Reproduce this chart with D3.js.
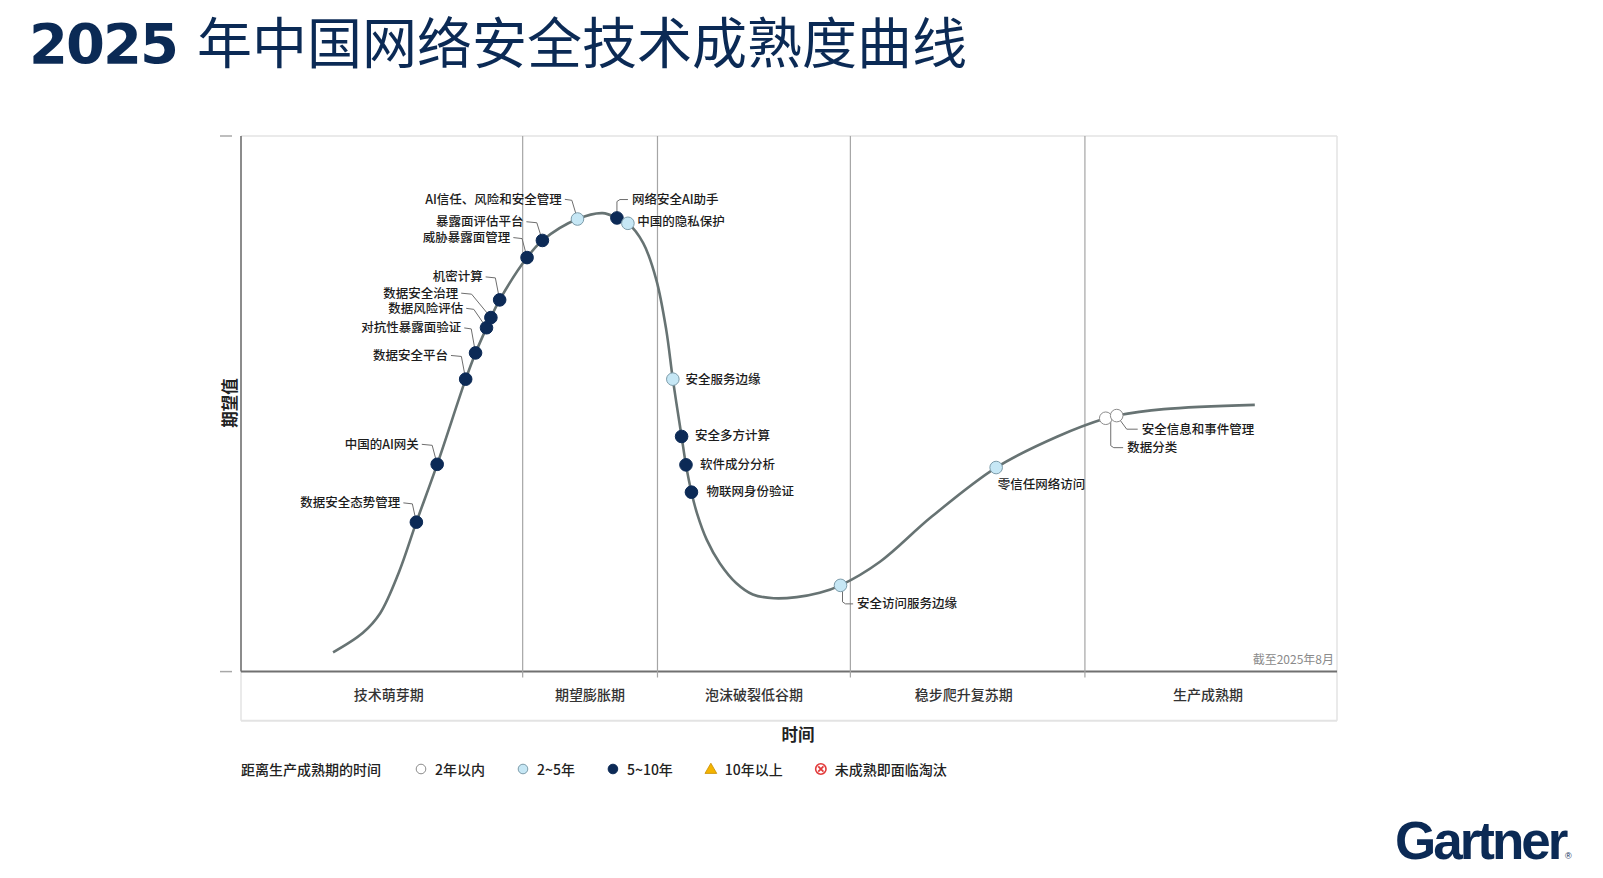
<!DOCTYPE html>
<html>
<head>
<meta charset="utf-8">
<script src="https://cdn.jsdelivr.net/npm/d3@7"></script>
<style>
  body { margin: 0; background: #fff; }
  svg { display: block; }
  text { font-family: "Noto Sans CJK SC", "Noto Sans", sans-serif; }
</style>
</head>
<body>
<div id="chart"></div>
<script>
// phases along the time axis (bounds in % of time)
const phases = ["技术萌芽期", "期望膨胀期", "泡沫破裂低谷期", "稳步爬升复苏期", "生产成熟期"];
const phaseBounds = [0, 25.7, 38.0, 55.6, 77.0, 100];

// hype curve knots (time %, expectation %)
const curveX = [8.4, 11.1, 12.7, 14.4, 16.0, 17.9, 20.5, 21.4, 22.4, 22.8, 23.6, 26.1, 27.5, 30.7, 33.0, 34.3, 35.3,
  36.7, 37.9, 38.8, 39.4, 40.2, 40.6, 41.1, 41.6, 42.5, 43.7, 45.2, 46.7, 48.6, 50.7, 52.8, 54.7, 58.3, 63.0,
  68.9, 74.5, 78.9, 79.9, 84.2, 92.5];
const curveY = [3.6, 7.2, 10.9, 18.5, 27.9, 38.7, 54.6, 59.5, 64.2, 66.1, 69.4, 77.3, 80.5, 84.5, 85.6, 84.7, 83.7,
  80.0, 73.1, 63.8, 54.6, 43.9, 38.6, 33.5, 29.6, 24.6, 20.2, 16.5, 14.4, 13.7, 13.9, 14.7, 16.1, 20.5, 28.9,
  38.1, 43.9, 47.3, 47.8, 49.0, 49.8];

// technologies on the curve
const techNames = ["数据安全态势管理", "中国的AI网关", "数据安全平台", "对抗性暴露面验证", "数据风险评估", "数据安全治理",
  "机密计算", "威胁暴露面管理", "暴露面评估平台", "AI信任、风险和安全管理", "网络安全AI助手", "中国的隐私保护",
  "安全服务边缘", "安全多方计算", "软件成分分析", "物联网身份验证", "安全访问服务边缘", "零信任网络访问",
  "数据分类", "安全信息和事件管理"];
const techX = [16.0, 17.9, 20.5, 21.4, 22.4, 22.8, 23.6, 26.1, 27.5, 30.7, 34.3, 35.3, 39.4, 40.2, 40.6, 41.1,
  54.7, 68.9, 78.9, 79.9];
const techY = [27.9, 38.7, 54.6, 59.5, 64.2, 66.1, 69.4, 77.3, 80.5, 84.5, 84.7, 83.7, 54.6, 43.9, 38.6, 33.5,
  16.1, 38.1, 47.3, 47.8];
// 0: 2年以内, 1: 2~5年, 2: 5~10年
const techGroup = [2, 2, 2, 2, 2, 2, 2, 2, 2, 1, 2, 1, 1, 2, 2, 2, 1, 1, 0, 0];

const legendTitle = "距离生产成熟期的时间";
const legendLabels = ["2年以内", "2~5年", "5~10年", "10年以上", "未成熟即面临淘汰"];

// label placement (pixels relative to the dot), kept apart from the data
const labelLayout = [
  { dx: -16, dy: -20.3, lead: "elbow", ex: -4 },
  { dx: -18.4, dy: -21, lead: "elbow", ex: -5 },
  { dx: -17.7, dy: -24.7, lead: "elbow", ex: -4.3 },
  { dx: -14.3, dy: -26, lead: "elbow", ex: -4.3 },
  { dx: -23.3, dy: -20.4, lead: "elbow", ex: -12.7 },
  { dx: -32.7, dy: -25.4, lead: "elbow", ex: -19.3 },
  { dx: -17, dy: -24, lead: "elbow", ex: -4.3 },
  { dx: -16.7, dy: -21, lead: "elbow", ex: -5 },
  { dx: -19, dy: -19.7, lead: "elbow", ex: -5.6 },
  { dx: -15.6, dy: -20.7, lead: "elbow", ex: -5.6 },
  { dx: 15, dy: -19.4, lead: "up" },
  { dx: 9.3, dy: -3.3, lead: "none" },
  { dx: 12.7, dy: -0.7, lead: "none" },
  { dx: 13.3, dy: -2.4, lead: "none" },
  { dx: 14, dy: -1, lead: "none" },
  { dx: 15, dy: -1.6, lead: "none" },
  { dx: 16.6, dy: 17.5, lead: "down", vx: 2 },
  { dx: 1.6, dy: 16, lead: "none" },
  { dx: 21.4, dy: 28.4, lead: "down", vx: 5 },
  { dx: 25, dy: 12.6, lead: "diag" }
];
const phaseLabelShift = [7, 0, 0, -4, -3];

const W = 1603, H = 878;
const plot = { left: 241, right: 1337, top: 136, bottom: 671.6, band: 720.7 };
const navy = "#0b2a55";

const svg = d3.select("#chart").append("svg")
  .attr("width", W)
  .attr("height", H);

const x = d3.scaleLinear().domain([0, 100]).range([plot.left, plot.right]);
const y = d3.scaleLinear().domain([0, 100]).range([plot.bottom, plot.top]);

// title
svg.append("text")
  .attr("x", 29).attr("y", 63)
  .style("font-family", "'DejaVu Sans', sans-serif")
  .style("font-weight", 700)
  .style("font-size", "56px")
  .style("letter-spacing", "-2px")
  .attr("fill", navy)
  .text("2025");
svg.append("text")
  .attr("x", 197).attr("y", 63)
  .style("font-size", "55px")
  .style("font-weight", 400)
  .attr("fill", navy)
  .text("年中国网络安全技术成熟度曲线");

// frame
const frame = svg.append("g");
frame.append("line").attr("x1", plot.left).attr("x2", plot.right).attr("y1", plot.top).attr("y2", plot.top)
  .attr("stroke", "#e3e3e3").attr("stroke-width", 1.5);
frame.append("line").attr("x1", plot.right).attr("x2", plot.right).attr("y1", plot.top).attr("y2", plot.band)
  .attr("stroke", "#e3e3e3").attr("stroke-width", 1.5);
frame.append("line").attr("x1", plot.left).attr("x2", plot.right).attr("y1", plot.band).attr("y2", plot.band)
  .attr("stroke", "#e3e3e3").attr("stroke-width", 2);
frame.append("line").attr("x1", plot.left).attr("x2", plot.left).attr("y1", plot.bottom).attr("y2", plot.band)
  .attr("stroke", "#e3e3e3").attr("stroke-width", 1.5);

// phase dividers
svg.append("g").selectAll("line")
  .data(phaseBounds.slice(1, -1))
  .enter().append("line")
  .attr("x1", d => x(d)).attr("x2", d => x(d))
  .attr("y1", plot.top).attr("y2", plot.bottom + 6)
  .attr("stroke", "#a5a5a5")
  .attr("stroke-width", 1.2);

// axes lines
frame.append("line").attr("x1", plot.left).attr("x2", plot.left).attr("y1", plot.top).attr("y2", plot.bottom)
  .attr("stroke", "#666").attr("stroke-width", 1.5);
frame.append("line").attr("x1", plot.left).attr("x2", plot.right).attr("y1", plot.bottom).attr("y2", plot.bottom)
  .attr("stroke", "#707070").attr("stroke-width", 2);
frame.selectAll(".tick")
  .data([0, 100])
  .enter().append("line")
  .attr("class", "tick")
  .attr("x1", plot.left - 21).attr("x2", plot.left - 9)
  .attr("y1", d => y(d)).attr("y2", d => y(d))
  .attr("stroke", "#a8a8a8").attr("stroke-width", 1.5);

// phase labels
svg.append("g").selectAll("text")
  .data(phases)
  .enter().append("text")
  .attr("x", (d, i) => x((phaseBounds[i] + phaseBounds[i + 1]) / 2) + phaseLabelShift[i])
  .attr("y", 694)
  .attr("text-anchor", "middle")
  .attr("dominant-baseline", "central")
  .style("font-size", "14px")
  .style("font-weight", 500)
  .attr("fill", "#333")
  .text(d => d);

// axis titles
svg.append("text")
  .attr("transform", "translate(229,403) rotate(-90)")
  .attr("text-anchor", "middle")
  .attr("dominant-baseline", "central")
  .style("font-size", "16.5px")
  .style("font-weight", 700)
  .attr("fill", "#222")
  .text("期望值");
svg.append("text")
  .attr("x", 798).attr("y", 734)
  .attr("text-anchor", "middle")
  .attr("dominant-baseline", "central")
  .style("font-size", "16.5px")
  .style("font-weight", 700)
  .attr("fill", "#222")
  .text("时间");

svg.append("text")
  .attr("x", plot.right - 3).attr("y", 658)
  .attr("text-anchor", "end")
  .attr("dominant-baseline", "central")
  .style("font-size", "12px")
  .attr("fill", "#8a8a8a")
  .text("截至2025年8月");

// the curve
const line = d3.line()
  .x(d => x(d[0]))
  .y(d => y(d[1]))
  .curve(d3.curveCatmullRom.alpha(0.5));

svg.append("path")
  .datum(d3.zip(curveX, curveY))
  .attr("d", line)
  .attr("fill", "none")
  .attr("stroke", "#677373")
  .attr("stroke-width", 2.6);

// technology points
const techs = techNames.map((name, i) => ({
  name: name, px: x(techX[i]), py: y(techY[i]), group: techGroup[i], lay: labelLayout[i]
}));

// leader lines
svg.append("g").selectAll("polyline")
  .data(techs.filter(d => d.lay.lead !== "none"))
  .enter().append("polyline")
  .attr("fill", "none")
  .attr("stroke", "#6e6e6e")
  .attr("stroke-width", 1)
  .attr("points", d => {
    const L = d.lay, tx = d.px + L.dx, ty = d.py + L.dy + 1;
    let pts;
    if (L.lead === "elbow") pts = [[tx + 3, ty], [d.px + L.ex, ty + 1], [d.px, d.py]];
    else if (L.lead === "up") pts = [[d.px, d.py], [d.px, ty + 2], [d.px + 3, ty], [tx - 4, ty]];
    else if (L.lead === "down") pts = [[d.px + L.vx, d.py], [d.px + L.vx, ty - 2], [d.px + L.vx + 3, ty], [tx - 4, ty]];
    else pts = [[d.px, d.py], [d.px + 10, ty], [tx - 4, ty]];
    return pts.map(p => p.join(",")).join(" ");
  });

const fills = ["#ffffff", "#c6e7f5", "#0c2a56"];
const strokes = ["#8c8c8c", "#7d9caa", "#0c2a56"];

svg.append("g").selectAll("circle")
  .data(techs)
  .enter().append("circle")
  .attr("cx", d => d.px)
  .attr("cy", d => d.py)
  .attr("r", 6.3)
  .attr("fill", d => fills[d.group])
  .attr("stroke", d => strokes[d.group])
  .attr("stroke-width", 1);

svg.append("g").selectAll("text")
  .data(techs)
  .enter().append("text")
  .attr("x", d => d.px + d.lay.dx)
  .attr("y", d => d.py + d.lay.dy)
  .attr("text-anchor", d => d.lay.dx < 0 ? "end" : "start")
  .attr("dominant-baseline", "central")
  .style("font-size", "12.5px")
  .style("font-weight", 500)
  .attr("fill", "#1c1c1c")
  .text(d => d.name);

// legend
const legend = svg.append("g").attr("transform", "translate(0,769)");
legend.append("text")
  .attr("x", 241).attr("y", 0)
  .attr("dominant-baseline", "central")
  .style("font-size", "14px")
  .style("font-weight", 500)
  .attr("fill", "#222")
  .text(legendTitle);

let cx = 421;
legendLabels.forEach((label, i) => {
  const g = legend.append("g").attr("transform", `translate(${cx},0)`);
  if (i < 3) {
    g.append("circle").attr("r", 4.8)
      .attr("fill", fills[i]).attr("stroke", strokes[i]).attr("stroke-width", 1);
  } else if (i === 3) {
    g.append("path").attr("d", d3.symbol(d3.symbolTriangle, 60)())
      .attr("transform", "translate(0,1)")
      .attr("fill", "#f4b400").attr("stroke", "#c88d00").attr("stroke-width", 0.8);
  } else {
    g.append("circle").attr("r", 5.2)
      .attr("fill", "#fff").attr("stroke", "#e23b3b").attr("stroke-width", 1.6);
    g.append("path").attr("d", "M-2.6,-2.6L2.6,2.6M2.6,-2.6L-2.6,2.6")
      .attr("stroke", "#e23b3b").attr("stroke-width", 1.8);
  }
  const t = g.append("text")
    .attr("x", 14).attr("y", 0)
    .attr("dominant-baseline", "central")
    .style("font-size", "14px")
    .style("font-weight", 500)
    .attr("fill", "#222")
    .text(label);
  cx += 14 + t.node().getComputedTextLength() + 38;
});

// Gartner wordmark
svg.append("text")
  .attr("x", 1395).attr("y", 859)
  .style("font-family", "'Liberation Sans', Arial, sans-serif")
  .style("font-weight", 700)
  .style("font-size", "53px")
  .style("letter-spacing", "-3px")
  .attr("fill", navy)
  .text("Gartner");
svg.append("text")
  .attr("x", 1565).attr("y", 859)
  .style("font-family", "'Liberation Sans', Arial, sans-serif")
  .style("font-size", "9px")
  .attr("fill", navy)
  .text("®");
</script>
</body>
</html>
